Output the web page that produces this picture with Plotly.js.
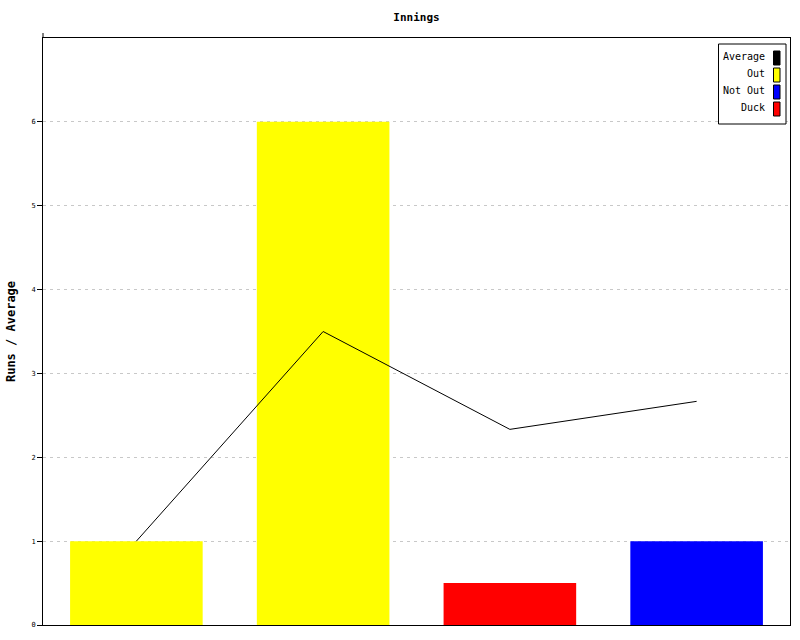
<!DOCTYPE html>
<html><head><meta charset="utf-8">
<script src="https://cdn.plot.ly/plotly-3.0.1.min.js"></script>
<style>body{margin:0;background:#fff}#chart{width:800px;height:640px}</style>
</head><body><div id="chart"></div>
<script>
const categories = ["1", "2", "3", "4"];
const runs = [1, 6, 0.5, 1];
const barColors = ["#ffff00", "#ffff00", "#ff0000", "#0000ff"];
const average = [1, 3.5, 2.333, 2.667];
const legendNames = ["Average", "Out", "Not Out", "Duck"];
const legendColors = ["#000000", "#ffff00", "#0000ff", "#ff0000"];
const yTicks = [0, 1, 2, 3, 4, 5, 6];

const W = 800, H = 640, L = 43, R = 10, T = 38, B = 15;
const pw = W - L - R, ph = H - T - B;
const px = x => (x - L) / pw;
const py = y => (H - B - y) / ph;
const mono = "DejaVu Sans Mono, monospace";

const xs = categories.map((c, i) => i);

const traces = [
  {type: "bar", x: xs, y: runs, marker: {color: barColors, line: {width: 0}}, showlegend: false, hoverinfo: "none"},
  {type: "scatter", mode: "lines", x: xs, y: average, line: {color: "#000", width: 1}, showlegend: false, hoverinfo: "none"}
];

const shapes = [
  {type: "rect", xref: "paper", yref: "paper", x0: px(718.5), x1: px(786), y0: py(44), y1: py(124), line: {color: "#000", width: 1}, fillcolor: "#fff", layer: "above"},
  {type: "line", xref: "paper", yref: "paper", x0: 0, x1: 0, y0: 1, y1: py(33), line: {color: "#000", width: 1}}
];
const annotations = [];
legendNames.forEach((n, i) => {
  const cy = 58 + i * 17;
  shapes.push({type: "rect", xref: "paper", yref: "paper", x0: px(773.5), x1: px(780), y0: py(cy - 7), y1: py(cy + 7), line: {color: "#000", width: 1}, fillcolor: legendColors[i], layer: "above"});
  annotations.push({xref: "paper", yref: "paper", x: px(767), y: py(cy - 1.5), xanchor: "right", yanchor: "middle", text: n, showarrow: false, font: {family: mono, size: 10, color: "#000"}});
});

const layout = {
  width: W, height: H,
  margin: {l: L, r: R, t: T, b: B, pad: 0},
  paper_bgcolor: "#fff", plot_bgcolor: "#fff",
  title: {text: "<b>Innings</b>", font: {family: mono, size: 11, color: "#000"}, x: 0.5, xref: "paper", y: 1 - 17 / H, yanchor: "middle"},
  bargap: 0.29,
  xaxis: {range: [-0.5, 3.5], showticklabels: false, ticks: "", showgrid: false, zeroline: false, showline: true, linecolor: "#000", linewidth: 1, mirror: true, fixedrange: true},
  yaxis: {range: [0, 7], tickvals: yTicks, ticktext: yTicks.map(String), ticks: "outside", ticklen: 5, tickcolor: "#000", tickfont: {family: mono, size: 7, color: "#000"},
    showgrid: true, gridcolor: "#c8c8c8", griddash: "3px,4px", zeroline: false, showline: true, linecolor: "#000", linewidth: 1, mirror: true,
    title: {text: "<b>Runs / Average</b>", font: {family: mono, size: 12, color: "#000"}, standoff: 13}},
  shapes: shapes,
  annotations: annotations,
  showlegend: false
};

Plotly.newPlot("chart", traces, layout, {displayModeBar: false, staticPlot: true});
</script></body></html>
